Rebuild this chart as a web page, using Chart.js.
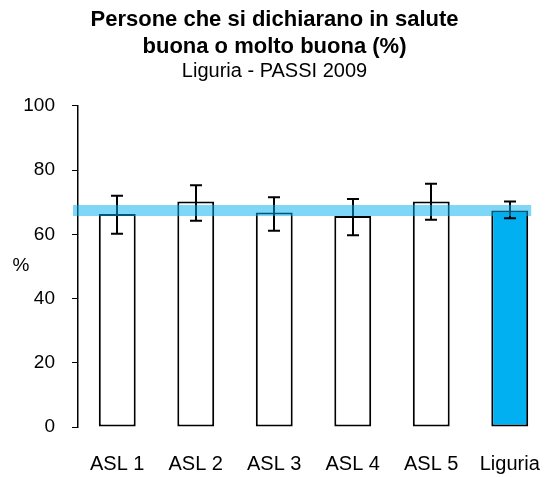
<!DOCTYPE html>
<html>
<head>
<meta charset="UTF-8">
<title>Persone che si dichiarano in salute buona o molto buona</title>
<script src="https://cdn.jsdelivr.net/npm/chart.js@4.4.0/dist/chart.umd.min.js"></script>
<style>
  html, body { margin: 0; padding: 0; background: #fff; }
  #wrap { width: 549px; height: 477px; }
</style>
</head>
<body>
<div id="wrap"><canvas id="chart"></canvas></div>
<script>
// dati
var categorie = ["ASL 1", "ASL 2", "ASL 3", "ASL 4", "ASL 5", "Liguria"];
var valori = [66.3, 70.2, 66.8, 65.7, 70.2, 67.4];
var limiteInf = [60.2, 64.2, 61.1, 59.7, 64.5, 65.0];
var limiteSup = [72.0, 75.3, 71.5, 71.0, 75.7, 70.2];
var valoreRegione = 67.4;
var tickY = [0, 20, 40, 60, 80, 100];

var FONT = "'Liberation Sans', Arial, sans-serif";
var colori = categorie.map(function (c) { return c === "Liguria" ? "#00B0F0" : "#FFFFFF"; });

// barre di errore, linea regionale ed etichetta "%"
var erroriPlugin = {
  id: "errori",
  afterDatasetsDraw: function (chart) {
    var ctx = chart.ctx, x = chart.scales.x, y = chart.scales.y;
    ctx.save();
    ctx.strokeStyle = "#000";
    ctx.lineWidth = 2;
    for (var i = 0; i < categorie.length; i++) {
      var cx = Math.round(x.getPixelForValue(i));
      var y1 = y.getPixelForValue(limiteInf[i]);
      var y2 = y.getPixelForValue(limiteSup[i]);
      ctx.beginPath();
      ctx.moveTo(cx, y1); ctx.lineTo(cx, y2);
      ctx.moveTo(cx - 6, y1); ctx.lineTo(cx + 6, y1);
      ctx.moveTo(cx - 6, y2); ctx.lineTo(cx + 6, y2);
      ctx.stroke();
    }
    var yr = y.getPixelForValue(valoreRegione);
    var ultimo = chart.getDatasetMeta(0).data[categorie.length - 1];
    var x0 = chart.chartArea.left - 5;
    ctx.fillStyle = "rgba(0,176,240,0.5)";
    ctx.fillRect(x0, yr - 5.5, ultimo.x + ultimo.width / 2 + 3 - x0, 11);
    ctx.fillStyle = "#000";
    ctx.font = "19px " + FONT;
    ctx.textAlign = "center";
    ctx.textBaseline = "middle";
    ctx.fillText("%", 21, 266);
    ctx.restore();
  }
};

var config = {
  type: "bar",
  data: {
    labels: categorie,
    datasets: [{
      data: valori,
      backgroundColor: colori,
      borderColor: "#000",
      borderWidth: 2,
      borderSkipped: false,
      categoryPercentage: 0.47,
      barPercentage: 1.0
    }]
  },
  options: {
    responsive: true,
    maintainAspectRatio: false,
    devicePixelRatio: 1,
    animation: false,
    layout: { padding: 0 },
    plugins: {
      legend: { display: false },
      tooltip: { enabled: false },
      title: {
        display: true,
        text: ["Persone che si dichiarano in salute", "buona o molto buona (%)"],
        color: "#000",
        font: { family: FONT, size: 22, weight: "bold", lineHeight: 1.2 },
        padding: { top: 7, bottom: 0 }
      },
      subtitle: {
        display: true,
        text: "Liguria - PASSI 2009",
        color: "#000",
        font: { family: FONT, size: 20, lineHeight: 1.2 },
        padding: { top: 0, bottom: 22 }
      }
    },
    scales: {
      x: {
        afterFit: function (s) { s.height = 50; s.paddingLeft = 0; s.paddingRight = 0; },
        grid: { display: false, drawTicks: false },
        border: { display: false },
        ticks: { color: "#000", font: { family: FONT, size: 20 }, padding: 25, maxRotation: 0 }
      },
      y: {
        min: 0,
        max: 100,
        afterBuildTicks: function (s) { s.ticks = tickY.map(function (v) { return { value: v }; }); },
        afterFit: function (s) { s.width = 78; },
        grid: { drawOnChartArea: false, drawTicks: true, tickLength: 6, color: "#000" },
        border: { display: true, color: "#000", width: 1.5 },
        ticks: { color: "#000", font: { family: FONT, size: 19 }, padding: 17 }
      }
    }
  },
  plugins: [erroriPlugin]
};

new Chart(document.getElementById("chart").getContext("2d"), config);
</script>
</body>
</html>
